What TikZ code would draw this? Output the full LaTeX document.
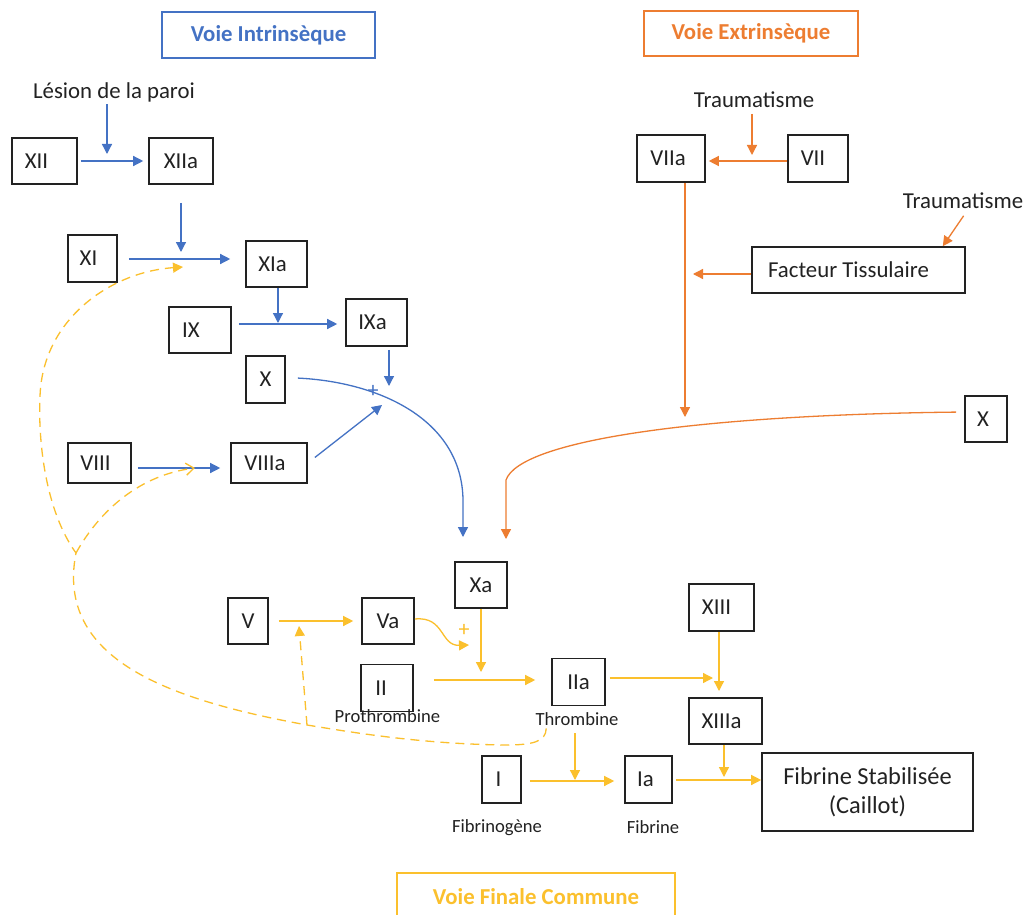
\documentclass[tikz,border=0pt]{standalone}
\usepackage{fontspec}
\setmainfont{Carlito}
\usetikzlibrary{arrows.meta}
\definecolor{cB}{HTML}{4472C4}
\definecolor{cO}{HTML}{ED7D31}
\definecolor{cY}{RGB}{251,192,45}
\definecolor{cK}{HTML}{222222}
\newcommand\shl[1]{\hspace*{#1pt}}
\tikzset{
  bx/.style 2 args={draw=cK, line width=0.8pt, minimum width=#1*0.5pt, minimum height=#2*0.5pt,
    inner sep=0pt, font=\fontsize{11.4}{13.7}\selectfont, text=cK},
  ttl/.style={draw=#1, line width=0.8pt, text=#1, inner sep=0pt,
    font=\fontsize{11.4}{13.7}\selectfont\bfseries},
  lbl/.style={inner sep=1pt, font=\fontsize{11.4}{13.7}\selectfont, text=cK},
  sml/.style={inner sep=1pt, font=\fontsize{9.3}{11}\selectfont, text=cK},
  pls/.style={inner sep=0pt, text=#1, font=\fontsize{11}{12}\selectfont},
  ab/.style={-{Triangle[length=5pt,width=5pt]}, draw=cB, line width=0.65pt},
  ao/.style={-{Triangle[length=5pt,width=5pt]}, draw=cO, line width=0.65pt},
  ay/.style={-{Triangle[length=5pt,width=5pt]}, draw=cY, line width=0.65pt},
  dy/.style={draw=cY, line width=0.65pt, dash pattern=on 4.5pt off 3pt},
}
\begin{document}
\begin{tikzpicture}[x=0.5pt,y=-0.5pt]
\useasboundingbox[fill=white] (0,0) rectangle (1029,915);

% titles
\node[ttl=cB, minimum width=213*0.5pt, minimum height=46*0.5pt] (tI) at (268.5,35) {Voie Intrinsèque};
\node[ttl=cO, minimum width=214*0.5pt, minimum height=45*0.5pt] (tE) at (751,33.5) {Voie Extrinsèque};
\node[ttl=cY, minimum width=278*0.5pt, minimum height=48*0.5pt] (tF) at (536,897) {Voie Finale Commune};

% intrinsic
\node[lbl] (lesion) at (114,92) {Lésion de la paroi};
\node[bx={65}{46}] (XII) at (44.5,161) {XII\shl{8}};
\node[bx={64}{46}] (XIIa) at (181,161) {XIIa};
\node[bx={49}{47}] (XI) at (92.5,258.5) {XI\shl{4}};
\node[bx={61}{46}] (XIa) at (276.5,264) {XIa\shl{4}};
\node[bx={62}{46}] (IX) at (200,330) {IX\shl{9}};
\node[bx={61}{47}] (IXa) at (376.5,322.5) {IXa\shl{4}};
\node[bx={39}{47}] (X) at (265.5,379.5) {X};
\node[bx={63}{40}] (VIII) at (99.5,463) {VIII\shl{4}};
\node[bx={76}{40}] (VIIIa) at (269,463) {VIIIa\shl{4}};

% extrinsic
\node[lbl] (trauma1) at (754,99.5) {Traumatisme};
\node[lbl] (trauma2) at (963,200.5) {Traumatisme};
\node[bx={68}{47}] (VIIa) at (671,158.5) {VIIa\shl{3}};
\node[bx={60}{47}] (VII) at (818,158.5) {VII\shl{5}};
\node[bx={213}{46}] (FT) at (858.5,270) {Facteur Tissulaire\shl{10}};
\node[bx={42}{46}] (Xr) at (986,419) {X\shl{3}};

% common
\node[bx={52}{46}] (Xa) at (481,585) {Xa};
\node[bx={40}{46}] (V) at (248,621) {V};
\node[bx={52}{46}] (Va) at (388,621) {Va};
\node[bx={52}{47}] (II) at (387,688) {II\shl{6}};
\node[sml] (prothrombine) at (387.5,716.5) {Prothrombine};
\node[bx={53}{47}] (IIa) at (578.5,682) {IIa};
\node[sml] (thrombine) at (577,719.5) {Thrombine};
\node[bx={65}{47}] (XIII) at (721.5,607.5) {XIII\shl{5}};
\node[bx={73}{46}] (XIIIa) at (725.5,721) {XIIIa\shl{4}};
\node[bx={39}{47}] (I) at (501.5,779.5) {I\shl{3}};
\node[sml] (fibrinogene) at (497,828) {Fibrinogène};
\node[bx={47}{47}] (Ia) at (648.5,779.5) {Ia\shl{3}};
\node[sml] (fibrine) at (653,827.5) {Fibrine};
\node[bx={211}{78}, align=center, font=\fontsize{12.2}{14.5}\selectfont] (FS) at (867.5,792) {Fibrine Stabilisée\\(Caillot)};

% junction coordinates
\coordinate (j1) at (107,162);
\coordinate (j2) at (181,259);
\coordinate (j3) at (278,324);
\coordinate (j4) at (389,386);
\coordinate (j5) at (382,405);
\coordinate (jXa1) at (463,537);
\coordinate (j6) at (752,161);
\coordinate (j8) at (685,417);
\coordinate (j9) at (693,274);
\coordinate (jXa2) at (506,539);
\coordinate (j11) at (481,680);
\coordinate (j12) at (469,645);
\coordinate (j13) at (719,678);
\coordinate (j14) at (719,691);
\coordinate (j15) at (724,780);
\coordinate (j16) at (575,781);
\coordinate (dB) at (307,725);
\coordinate (dC) at (76,553);
\coordinate (tXI) at (183,267);
\coordinate (tVIII) at (195,468);
\coordinate (tV) at (299,626);

% blue connectors
\draw[ab, shorten <=1.5pt, shorten >=2.5pt] (XII.east) -- (XIIa.west);
\draw[ab, shorten >=4pt] (lesion.south -| j1) -- (j1);
\draw[ab, shorten <=9pt, shorten >=3.5pt] (XIIa.south) -- (j2);
\draw[ab, shorten <=5.5pt, shorten >=7.5pt] (XI.east |- j2) -- (XIa.west |- j2);
\draw[ab, shorten >=0.5pt] (XIa.south -| j3) -- (j3);
\draw[ab, shorten <=3.5pt, shorten >=4pt] (IX.east |- j3) -- (IXa.west |- j3);
\draw[ab, shorten <=1.5pt] (IXa.south -| j4) -- (j4);
\draw[ab, shorten <=6pt] ([yshift=1pt]X.east) .. controls (380,382) and (462,420) .. (463,500) -- (jXa1);
\draw[ab, shorten <=4.5pt] (VIIIa.east) -- (j5);
\draw[ab, shorten <=3pt, shorten >=5pt] (VIII.east |- tVIII) -- (VIIIa.west |- tVIII);
\node[pls=cB] (plusB) at (373,391) {+};

% orange connectors
\draw[ao, shorten <=2pt, shorten >=3pt] (trauma1.south -| j6) -- (j6);
\draw[ao, shorten >=1.5pt] (VII.west |- j6) -- (VIIa.east |- j6);
\draw[ao] (VIIa.south -| j8) -- (j8);
\draw[ao, shorten <=3pt] ([xshift=2pt]trauma2.south) -- ([xshift=-11.5pt]FT.north east);
\draw[ao] (FT.west |- j9) -- (j9);
\draw[ao, shorten <=4pt] ([yshift=3.5pt]Xr.west) .. controls (700,415) and (520,440) .. (506,480) -- (jXa2);

% yellow connectors
\draw[ay, shorten >=4pt] (Xa.south) -- (j11);
\draw[ay, shorten <=5pt, shorten >=4pt] (V.east) -- (Va.west);
\draw[ay] ([yshift=1pt]Va.east) .. controls (445,616) and (440,646) .. (j12);
\node[pls=cY] (plusY) at (464,630) {+};
\draw[ay, shorten <=10pt, shorten >=8pt] (II.east |- j11) -- (IIa.west |- j11);
\draw[ay, shorten <=2pt, shorten >=3pt] (IIa.east |- j13) -- (j13);
\draw[ay] (XIII.south -| j14) -- (j14);
\draw[ay, shorten >=1.5pt] (XIIIa.south -| j15) -- (j15);
\draw[ay, shorten <=1.5pt] (Ia.east |- j15) -- (FS.west |- j15);
\draw[ay, shorten <=2.5pt, shorten >=0.5pt] (thrombine.south -| j16) -- (j16);
\draw[ay, shorten <=4pt, shorten >=5pt] (I.east |- j16) -- (Ia.west |- j16);

% dashed feedback (thrombin)
\draw[dy, -{Triangle[length=5pt,width=5pt]}] ([xshift=6.5pt]thrombine.south west)
  .. controls (546,742) and (532,745) .. (505,745)
  .. controls (420,744) and (350,732) .. (dB)
  .. controls (170,700) and (55,660) .. (dC)
  .. controls (45,510) and (38,440) .. (40,397)
  .. controls (42,320) and (110,272) .. (tXI);
\draw[dy, -{Triangle[length=5pt,width=5pt]}] (dB) -- (tV);
\draw[dy, -{Straight Barb[length=4pt,width=6pt]}] (dC) .. controls (100,510) and (140,475) .. (tVIII);
\end{tikzpicture}
\end{document}
